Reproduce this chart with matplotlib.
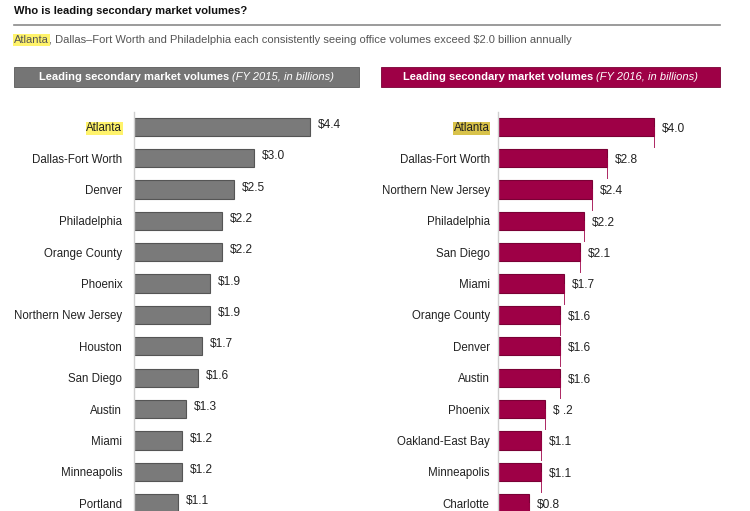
import matplotlib.pyplot as plt
import matplotlib.patches as mpatches

plt.rcParams['font.family'] = ['Liberation Sans', 'DejaVu Sans']

# FY 2015
cities_2015 = ['Atlanta', 'Dallas-Fort Worth', 'Denver', 'Philadelphia', 'Orange County',
               'Phoenix', 'Northern New Jersey', 'Houston', 'San Diego', 'Austin',
               'Miami', 'Minneapolis', 'Portland']
vol_2015 = [4.4, 3.0, 2.5, 2.2, 2.2, 1.9, 1.9, 1.7, 1.6, 1.3, 1.2, 1.2, 1.1]
labels_2015 = ['$4.4', '$3.0', '$2.5', '$2.2', '$2.2', '$1.9', '$1.9', '$1.7',
               '$1.6', '$1.3', '$1.2', '$1.2', '$1.1']

# FY 2016
cities_2016 = ['Atlanta', 'Dallas-Fort Worth', 'Northern New Jersey', 'Philadelphia',
               'San Diego', 'Miami', 'Orange County', 'Denver', 'Austin', 'Phoenix',
               'Oakland-East Bay', 'Minneapolis', 'Charlotte']
vol_2016 = [4.0, 2.8, 2.4, 2.2, 2.1, 1.7, 1.6, 1.6, 1.6, 1.2, 1.1, 1.1, 0.8]
labels_2016 = ['$4.0', '$2.8', '$2.4', '$2.2', '$2.1', '$1.7', '$1.6', '$1.6',
               '$1.6', '$ .2', '$1.1', '$1.1', '$0.8']

W, H = 750, 511
fig = plt.figure(figsize=(7.5, 5.11), dpi=100)
fig.patch.set_facecolor('white')
renderer = fig.canvas.get_renderer()


def px(x, y):
    return x / W, 1 - y / H


def width_px(t):
    return t.get_window_extent(renderer).width


# title block
fig.text(*px(14, 11), 'Who is leading secondary market volumes?', fontsize=8,
         fontweight='bold', va='center', ha='left', color='#111111')
fig.add_artist(plt.Line2D([14 / W, 720 / W], [1 - 25 / H] * 2, color='#8a8a8a', lw=1.2))
hl = fig.text(*px(14, 40), 'Atlanta', fontsize=8, va='center', ha='left', color='#555555',
              bbox=dict(facecolor='#fff36b', edgecolor='none', pad=0.5))
fig.text(*px(14 + width_px(hl), 40),
         ', Dallas\u2013Fort Worth and Philadelphia each consistently seeing office volumes exceed $2.0 billion annually',
         fontsize=8, va='center', ha='left', color='#555555')

# header boxes
for x0, x1, col, edge, yr in [(14, 359, '#757575', '#5a5a5a', '2015'),
                              (381, 720, '#9e0046', '#7a0035', '2016')]:
    fig.add_artist(mpatches.Rectangle((x0 / W, 1 - 87 / H), (x1 - x0) / W, 20 / H,
                                      facecolor=col, edgecolor=edge,
                                      lw=0.6, transform=fig.transFigure))
    a = fig.text(0, 0, 'Leading secondary market volumes ', fontsize=8,
                 fontweight='bold', color='white', va='center', ha='left')
    b = fig.text(0, 0, '(FY %s, in billions)' % yr, fontsize=8,
                 fontstyle='italic', color='white', va='center', ha='left')
    wa, wb = width_px(a), width_px(b)
    start = (x0 + x1) / 2 - (wa + wb) / 2
    a.set_position(px(start, 77))
    b.set_position(px(start + wa, 77))


def draw(ax, cities, vals, labels, color, edge, hl, drops, pad, dy):
    pos = list(range(len(cities)))
    ax.barh(pos, vals, height=0.58, color=color, edgecolor=edge, lw=0.8)
    if drops:
        for p, v in zip(pos, vals):
            ax.plot([v, v], [p, p + 0.64], color=color, lw=0.7, alpha=0.85, clip_on=False)
    ax.set_ylim(12.25, -0.47)
    ax.set_yticks(pos)
    ax.set_yticklabels(cities, fontsize=8.3, color='#222222')
    ax.tick_params(axis='y', length=0, pad=pad)
    ax.set_xticks([])
    for s in ['top', 'right', 'bottom']:
        ax.spines[s].set_visible(False)
    ax.spines['left'].set_color('#cfcfcf')
    ax.spines['left'].set_linewidth(1)
    ax.get_yticklabels()[0].set_bbox(dict(facecolor=hl, edgecolor='none', pad=0.5))
    for p, v, lab in zip(pos, vals, labels):
        ax.text(v + 0.2, p + dy, lab, fontsize=8.6, va='center', ha='left',
                color='#222222', clip_on=False)


ax1 = fig.add_axes([134 / W, 0, 200 / W, 1 - 112 / H])
ax1.set_xlim(0, 5)
draw(ax1, cities_2015, vol_2015, labels_2015, '#7a7a7a', '#555555', '#fff36b', False, 8.5, -0.06)

ax2 = fig.add_axes([498 / W, 0, 195 / W, 1 - 112 / H])
ax2.set_xlim(0, 5)
draw(ax2, cities_2016, vol_2016, labels_2016, '#9e0046', '#7a0035', '#d8c24a', True, 6, 0.06)

fig.savefig('out.png', dpi=100, facecolor='white')
